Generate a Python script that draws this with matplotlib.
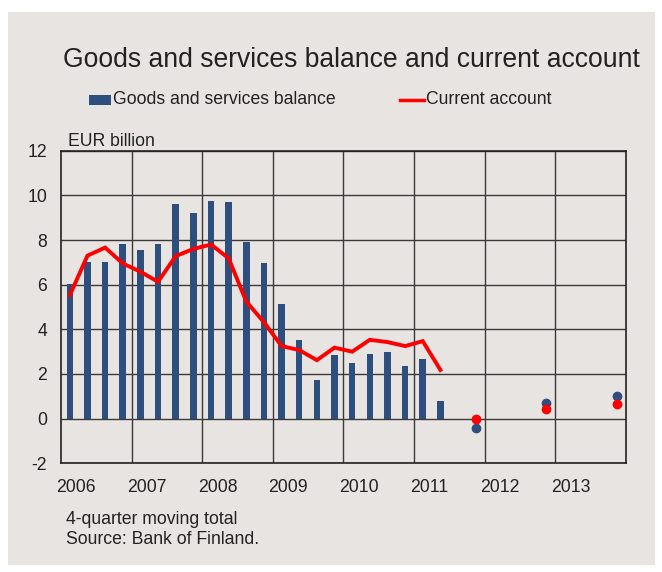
import numpy as np
import matplotlib.pyplot as plt
from matplotlib.patches import Rectangle
from matplotlib.lines import Line2D

plt.rcParams['font.family'] = ['Liberation Sans', 'DejaVu Sans']
plt.rcParams['axes.unicode_minus'] = False

# quarterly 4-quarter moving totals, 2006Q1 .. 2011Q2 (EUR billion)
goods_services = [6.05, 7.03, 7.02, 7.82, 7.57, 7.80, 9.62, 9.22, 9.76, 9.70, 7.91,
                  6.97, 5.13, 3.51, 1.74, 2.83, 2.47, 2.88, 2.97, 2.36, 2.67, 0.77]
current_account = [5.53, 7.30, 7.66, 6.95, 6.58, 6.13, 7.28, 7.60, 7.80, 7.18, 5.24,
                   4.32, 3.25, 3.07, 2.62, 3.18, 3.00, 3.53, 3.43, 3.25, 3.47, 2.18]

# annual forecasts shown at the fourth quarter of 2011, 2012, 2013
forecast_quarter = [23, 27, 31]
goods_forecast = [-0.41, 0.69, 1.01]
current_forecast = [0.0, 0.42, 0.65]

years = ['2006', '2007', '2008', '2009', '2010', '2011', '2012', '2013']

bg = '#e8e4e1'
blue = '#2e4f7e'
red = '#ff0000'
grid_col = '#3a3a3a'
txt = '#222222'
fs = 12.7

fig = plt.figure(figsize=(6.62, 5.72), dpi=100)
fig.patch.set_facecolor('white')
fig.patches.append(Rectangle((8 / 662, 1 - 565 / 572), 647 / 662, 553 / 572,
                             transform=fig.transFigure, facecolor=bg,
                             edgecolor='none', zorder=-10))

ax = fig.add_axes([61 / 662, 1 - 463.3 / 572, 564.7 / 662, 312.6 / 572])
ax.set_facecolor(bg)

x = np.arange(len(goods_services)) + 0.5
ax.bar(x, goods_services, width=0.37, color=blue, zorder=3)
ax.plot(x, current_account, color=red, lw=2.8, zorder=4, solid_joinstyle='miter')

fx = np.array(forecast_quarter) + 0.5
ax.plot(fx, goods_forecast, 'o', color=blue, ms=6, zorder=5)
ax.plot(fx, current_forecast, 'o', color=red, ms=6, zorder=6)

ax.set_xlim(0, 32)
ax.set_ylim(-2, 12)
ax.set_yticks(range(-2, 13, 2))
ax.set_xticks(range(4, 32, 4))
ax.set_xticklabels([])
ax.set_xticks(np.arange(len(years)) * 4 + 0.87, minor=True)
ax.set_xticklabels(years, minor=True)
ax.tick_params(axis='both', which='both', length=0, labelsize=fs, colors=txt)
ax.tick_params(axis='y', pad=10)
ax.tick_params(axis='x', which='minor', pad=11)

ax.grid(True, which='major', color=grid_col, lw=1.0, zorder=1)
for s in ax.spines.values():
    s.set_color(txt)
    s.set_linewidth(1.2)

fig.text(63 / 662, 1 - 60 / 572, 'Goods and services balance and current account',
         fontsize=19.1, color=txt, va='center')

# legend drawn by hand so it sits on the background row
fig.patches.append(Rectangle((89 / 662, 1 - 105 / 572), 22 / 662, 10 / 572,
                             transform=fig.transFigure, facecolor=blue, edgecolor='none'))
fig.text(113 / 662, 1 - 100 / 572, 'Goods and services balance', fontsize=fs,
         color=txt, va='center')
fig.lines.append(Line2D([400 / 662, 424 / 662], [1 - 100 / 572] * 2,
                        transform=fig.transFigure, color=red, lw=2.5))
fig.text(426.5 / 662, 1 - 100 / 572, 'Current account', fontsize=fs,
         color=txt, va='center')

fig.text(68 / 662, 1 - 142 / 572, 'EUR billion', fontsize=fs, color=txt, va='center')
fig.text(66 / 662, 1 - 519 / 572, '4-quarter moving total', fontsize=fs, color=txt, va='center')
fig.text(66 / 662, 1 - 539 / 572, 'Source: Bank of Finland.', fontsize=fs, color=txt, va='center')

fig.savefig('out.png', dpi=100, facecolor=fig.get_facecolor())
